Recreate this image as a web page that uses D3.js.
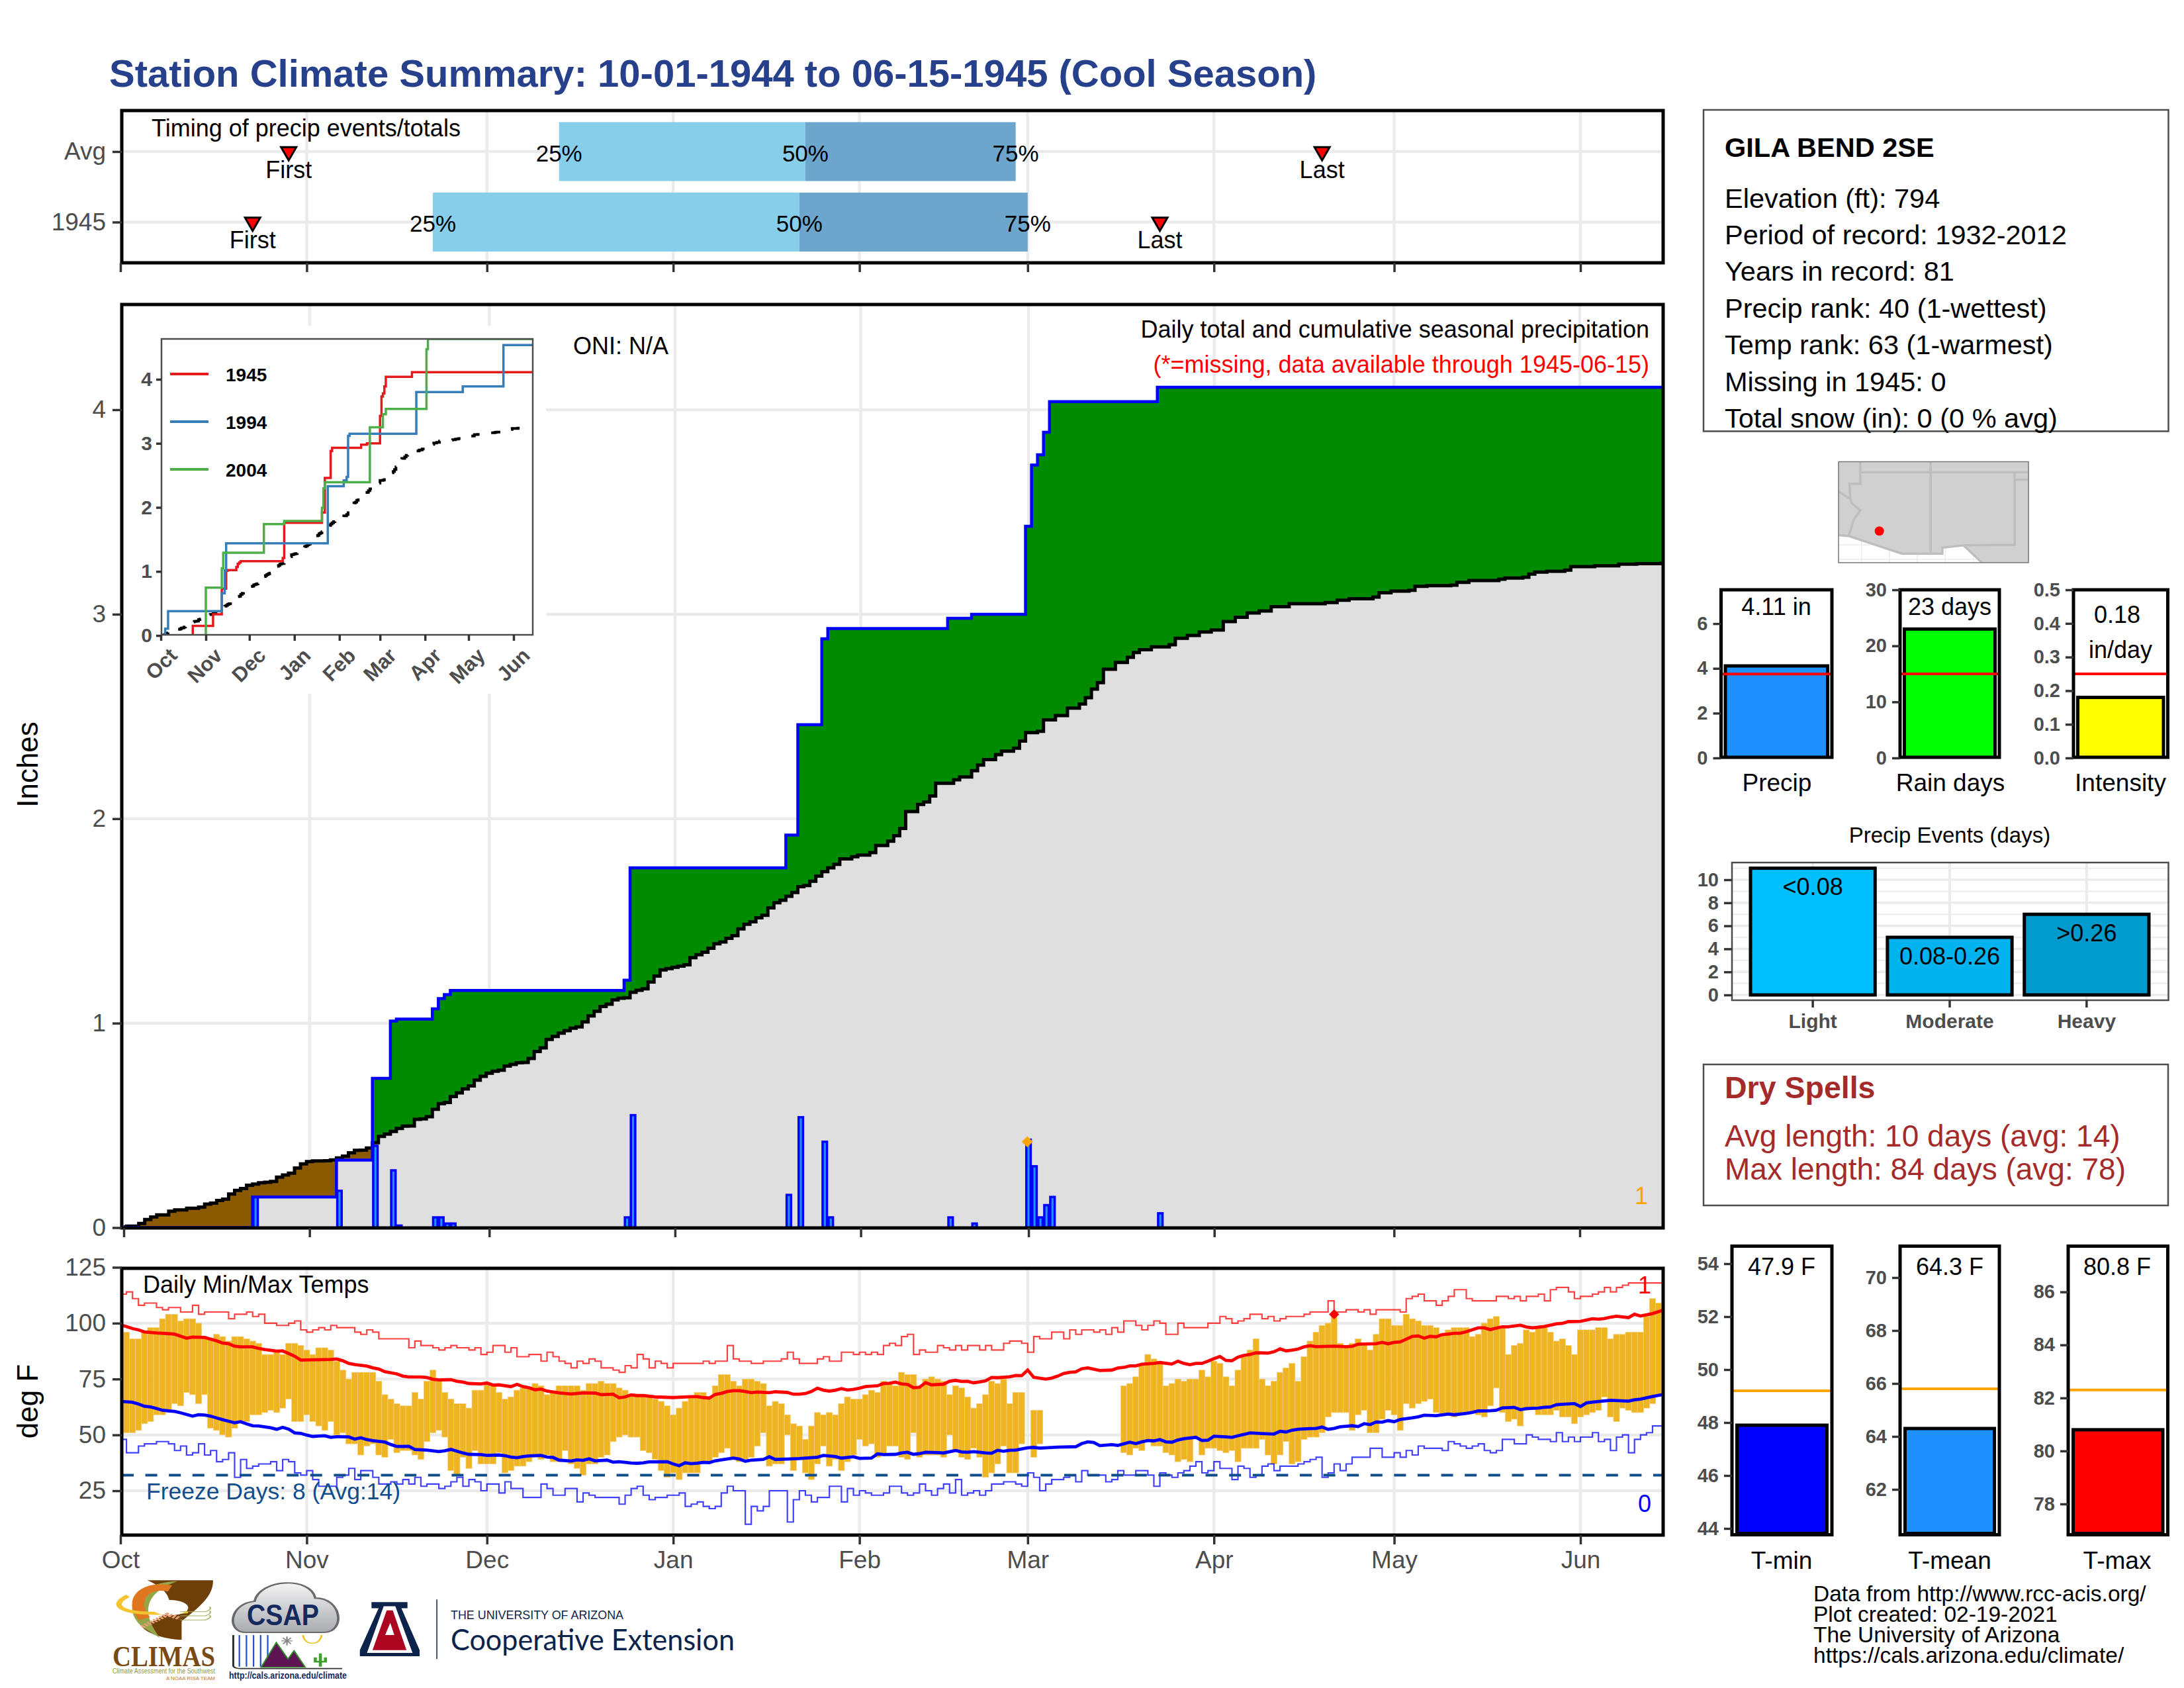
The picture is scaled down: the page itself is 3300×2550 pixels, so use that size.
<!DOCTYPE html>
<html>
<head>
<meta charset="utf-8">
<style>
html, body { margin: 0; background: #fff; }
svg { display: block; font-family: "Liberation Sans", Arial, sans-serif; }
</style>
<script src="https://d3js.org/d3.v7.min.js"></script>
</head>
<body>
<svg id="chart" width="3300" height="2550"></svg>
<script>
// ---- data. day 0 = Oct 1
const monthNames = ['Oct', 'Nov', 'Dec', 'Jan', 'Feb', 'Mar', 'Apr', 'May', 'Jun'];
const monthDays = [0, 31, 61, 92, 123, 151, 182, 212, 243];

// daily precip in 1945 season (non zero days)
const rainDays = [22, 36, 42, 45, 46, 52, 53, 54, 55, 84, 85, 111, 113, 117, 118, 138, 142, 151, 152, 153, 154, 155, 173];
const rainVals = [.15, .18, .40, .28, .01, .05, .05, .02, .02, .05, .55, .16, .54, .42, .05, .05, .02, .43, .30, .05, .11, .15, .07];

// average cumulative precip (value holds from that day on)
const avgDays = [0,1,3,4,5,6,8,9,11,13,14,15,16,17,18,19,20,21,22,23,24,25,26,27,28,29,30,31,32,34,35,36,37,38,39,40,41,42,43,44,45,46,47,48,49,50,51,52,53,54,55,56,57,58,59,60,61,62,63,64,65,66,67,68,69,70,71,72,73,74,75,76,77,78,79,80,81,82,83,84,85,86,87,88,89,90,91,92,93,94,95,96,97,98,99,100,101,102,103,104,105,106,107,108,109,110,111,112,113,114,115,116,117,118,119,120,122,123,125,126,128,129,130,131,133,134,135,136,139,140,142,143,144,146,147,149,150,151,153,154,156,158,160,161,162,163,164,166,168,169,170,172,175,176,178,180,182,184,186,188,190,192,195,201,203,205,209,210,212,215,216,218,222,223,225,230,231,234,235,236,238,241,242,246,250,253,257];
const avgCum = [.004,.007,.02,.04,.052,.062,.08,.087,.095,.10,.115,.12,.133,.139,.164,.182,.191,.207,.213,.219,.222,.226,.247,.257,.266,.291,.312,.323,.326,.327,.331,.341,.35,.366,.378,.379,.389,.415,.446,.457,.47,.485,.496,.497,.529,.532,.542,.579,.606,.612,.641,.659,.678,.693,.721,.74,.755,.765,.77,.79,.798,.806,.808,.827,.861,.879,.92,.935,.951,.963,.975,.982,1.006,1.035,1.058,1.081,1.093,1.114,1.122,1.124,1.151,1.161,1.168,1.201,1.23,1.26,1.267,1.273,1.279,1.285,1.32,1.335,1.347,1.366,1.388,1.397,1.415,1.428,1.461,1.484,1.496,1.515,1.527,1.564,1.589,1.601,1.62,1.639,1.667,1.673,1.694,1.719,1.741,1.76,1.777,1.803,1.814,1.822,1.834,1.869,1.89,1.917,1.952,2.035,2.07,2.082,2.111,2.173,2.19,2.204,2.235,2.262,2.289,2.313,2.33,2.345,2.38,2.421,2.427,2.483,2.504,2.541,2.561,2.592,2.634,2.665,2.731,2.764,2.789,2.813,2.826,2.84,2.851,2.882,2.896,2.913,2.923,2.964,2.985,3.006,3.016,3.037,3.051,3.057,3.068,3.076,3.084,3.105,3.113,3.117,3.136,3.14,3.142,3.156,3.165,3.171,3.177,3.181,3.196,3.206,3.21,3.216,3.233,3.237,3.245,3.247,3.249];

// inset comparison years (value holds from that day on)
const y1994Days = [0, 3, 5, 42, 44, 45, 115, 126, 128, 129, 130, 176, 208, 236];
const y1994Cum = [0, .107, .38, .66, 1.015, 1.44, 2.33, 2.42, 2.475, 3.117, 3.15, 3.80, 3.89, 4.534];
const y2004Days = [0, 31, 42, 43, 71, 85, 111, 112, 113, 144, 153, 155, 183, 184];
const y2004Cum = [0, .748, 1.05, 1.293, 1.738, 1.788, 1.995, 2.297, 2.394, 3.25, 3.455, 3.537, 4.47, 4.63];

// daily max / min temps, null = missing
const tmaxVals = [96,96,93,93,96,98,98,102,104,104,101,102,102,100,94,93,95,94,92,94,94,93,92,91,86,86,87,86,91,91,90,88,86,89,89,88,83,79,75,78,78,78,78,74,68,66,64,63,63,69,66,74,79,74,69,66,64,64,62,70,70,73,72,69,66,67,70,71,71,73,72,68,69,72,72,72,72,70,73,73,74,73,73,71,70,68,68,67,67,66,65,63,59,62,65,67,69,69,67,72,77,77,74,72,75,75,74,73,63,65,64,59,55,54,48,54,60,59,60,59,64,67,66,66,68,70,69,74,73,72,78,77,77,71,75,76,75,74,68,72,71,67,62,64,68,74,73,75,64,69,69,null,61,61,null,null,null,null,null,null,null,null,null,null,null,null,null,72,73,76,81,86,84,82,72,73,75,74,75,75,79,76,83,82,76,72,79,85,88,93,75,72,74,78,80,82,74,85,92,96,99,100,103,91,90,91,93,90,88,95,102,102,99,99,104,102,101,99,99,98,95,97,98,98,98,94,95,100,102,103,98,86,90,91,97,96,98,98,96,92,93,90,86,97,97,97,98,98,93,95,95,96,96,96,103,111,109];
const tminVals = [51,51,51,52,55,56,59,59,61,64,63,69,68,64,68,53,52,50,49,53,56,56,59,59,60,61,60,62,66,56,56,59,56,54,52,56,50,51,46,46,41,45,46,41,40,48,42,43,43,41,39,47,51,52,49,34,32,40,35,43,37,37,37,42,33,34,36,36,38,40,39,41,38,38,43,37,35,32,37,37,40,41,47,49,50,49,49,43,42,39,34,31,33,30,33,33,33,38,38,40,42,44,39,38,39,40,45,51,36,37,37,50,34,40,33,30,37,45,36,39,34,38,41,48,45,46,40,41,45,45,40,39,51,40,41,41,41,40,50,43,40,39,44,40,31,33,37,45,33,33,46,null,40,46,null,null,null,null,null,null,null,null,null,null,null,null,null,42,41,44,43,48,45,45,42,41,38,39,38,49,41,44,44,43,42,43,38,44,44,44,48,41,37,41,47,37,38,48,49,49,51,58,60,60,60,52,59,61,51,51,57,61,59,52,64,62,64,65,66,60,59,59,58,59,60,60,59,58,63,71,60,56,57,54,61,62,59,59,59,61,58,58,55,58,59,60,61,67,58,56,62,61,60,60,62,64,68];

// normal max / min (thick lines)
const normMaxDays = [0,1,2,3,4,6,8,9,11,12,14,16,17,18,19,20,22,23,24,26,27,28,29,30,35,36,37,38,39,41,42,43,44,46,47,48,50,51,52,53,55,56,57,58,60,61,62,63,65,66,67,68,69,70,71,73,75,77,79,80,82,83,84,85,86,87,89,92,95,96,97,98,99,100,101,102,103,104,105,106,108,109,111,112,113,114,115,116,117,118,119,120,121,122,123,124,126,127,128,129,130,131,132,133,134,135,137,138,139,140,141,142,143,144,145,146,148,149,150,151,152,154,155,156,157,158,159,160,161,163,165,166,167,168,169,170,172,173,175,176,177,178,179,180,181,182,183,184,185,186,187,188,189,190,191,192,193,194,195,196,197,198,199,202,204,205,206,209,210,211,212,213,214,215,216,217,218,219,220,221,222,223,224,226,227,228,229,230,231,233,234,235,237,239,240,241,243,245,246,247,248,249,251,252,253,255,257];
const normMaxVals = [99.2,98.5,97.6,97,96.1,95.6,95.3,95.1,93.3,93.8,93.6,92.1,91.1,90.8,89.7,89.4,89.4,88.7,88.2,87.5,87.6,86.4,85.2,83.5,83.8,84,83.2,82,81.5,80.8,80,79.5,78.3,77.3,76.3,75.9,75.9,75.7,74.9,74.6,74.7,74,73.6,73,72.8,73.2,72.3,72.4,71.6,72.6,71.6,71.1,70.2,70.5,69.6,68.8,68.3,68.8,68.7,68,68.2,66.6,67,67.9,67.6,67.6,67,66.7,67.1,67.1,66.7,66.5,68.1,68.6,69.4,69.8,69.8,69.4,68.9,69.2,68.9,69.3,69,68.2,68.2,68.5,69.4,70.9,70,69.6,70,70.7,70.1,70.4,70.9,71.6,72,73,73.1,73.6,72.8,72.6,71.1,71.3,73.4,72.4,72.7,74,74.4,73.9,74,73.3,73.7,74.2,75.7,75.6,76,76.6,76.5,79,75.8,75,75.4,76.3,77.5,78,78.2,79.6,80,78.8,79,79.9,80.2,80.9,80.9,81.6,82,82.4,81.7,83,82,81.4,82,82,83,84.1,85.1,83.3,83.2,84.8,85.6,86,86.7,86.7,86.6,87.2,88.5,87.6,87.9,88.4,89.4,89.9,89.5,89.7,89.5,89.6,90.6,90.8,91.4,90.8,91.4,91.6,92.8,94.1,94.3,93.3,94.1,93.9,94.9,95.1,95.5,95.5,96.2,97.9,97.9,97.1,97.8,98.4,98.4,99.1,98.3,97.9,98.5,99.7,99.9,100.7,100.8,102,101.8,102.1,102.7,103.1,102.5,104,103.2,104.3,106];
const normMinDays = [0,1,2,3,4,5,6,7,9,10,12,13,14,15,16,17,18,19,20,21,22,23,25,26,27,28,29,30,31,32,33,34,35,36,38,39,40,41,42,44,45,46,48,49,51,53,54,55,56,57,58,60,61,63,64,65,66,67,68,70,71,72,73,75,76,77,78,79,81,82,83,85,86,87,88,91,92,93,94,95,96,97,98,99,100,102,103,104,105,107,108,109,111,113,116,117,119,120,122,123,125,126,127,129,130,131,132,133,134,136,137,139,140,141,142,144,145,146,147,148,149,150,151,152,153,156,159,160,161,162,163,164,165,166,167,168,169,170,171,172,173,174,175,176,177,179,180,181,182,184,185,186,187,188,190,192,193,194,195,196,198,199,200,201,202,203,205,206,207,208,209,210,211,212,213,215,216,217,219,221,222,224,225,226,228,229,230,232,233,234,236,237,238,239,240,242,243,244,245,248,251,252,253,255,257];
const normMinVals = [65,64.8,64.6,63.8,62.8,62.5,61.8,61,60.5,59.9,58.4,59,58.9,58.4,57.6,56.8,56.1,55.4,55.9,54.9,54.1,54,53.2,52.5,53.4,52.6,50.9,50.7,49.9,49.3,49.5,49.6,48.9,49.2,49.1,48.1,48.7,47.9,47.4,46.8,45.7,44.8,44.9,43.5,43.2,42.5,42.9,43.5,42.7,41.9,41.3,41.2,40.8,41,40.7,40.1,39.8,40.3,40.6,40.8,40.1,39.9,38.7,38.3,38.8,38.6,39.3,38.4,38.7,37.8,38,37.4,37.3,37.5,37.9,38,37,36.2,37.5,37.1,37.3,37.7,37.6,38.4,38.8,39.6,39.2,38.2,38.7,39,40.2,39,39.2,39.4,40,40.8,40.3,39.6,40.2,39.5,39.6,41.5,41.2,41.3,41.9,42.2,41.3,41.6,42.2,42.1,41.9,43,42.4,42.2,42.5,41.9,41.8,43.1,42.7,43.1,43.2,43.7,44.2,44.4,44.1,44.5,44.7,46.1,46.9,46.6,45.2,45.4,45.6,45.3,46,46.7,46.1,46.9,47.5,47.3,47.9,46.9,46.7,47.7,48.3,48.9,47.5,47.6,49.4,49.1,48.9,49.6,50.2,50.9,50.6,50.4,51.6,51.3,52.1,52.5,52.8,52.9,53.5,52.5,52.9,53.6,54.1,53.7,55,54.6,55.8,55.7,56.4,55.9,56.9,57.6,58.1,58.8,58.6,59.3,59,59.6,60.1,60.7,60.8,61,62.1,62.3,61.3,61.8,62,62.4,62.5,63.5,63.7,64,62.7,64.3,64.7,65.5,65.1,65.7,66,67.2,68.2];

// record high / low steps (value holds from that day on)
const recHiDays = [0,1,2,3,4,6,7,8,10,12,13,14,18,19,21,22,23,24,26,28,29,30,31,32,33,34,35,36,39,40,41,42,43,48,49,50,52,53,54,55,56,58,59,60,61,62,64,65,66,68,70,71,72,73,74,75,76,77,78,79,80,82,83,84,85,86,87,88,89,90,91,92,97,98,99,101,102,103,105,107,110,111,112,113,116,117,118,120,122,123,124,125,126,127,128,129,130,131,132,133,134,136,137,138,139,140,141,143,144,145,147,148,150,151,152,153,155,157,158,159,160,162,163,164,165,166,167,169,170,171,172,173,174,176,177,181,183,184,185,186,187,188,190,191,192,193,194,197,198,201,202,203,204,206,207,208,209,213,214,215,216,217,219,220,221,222,224,225,229,231,232,233,234,236,237,238,239,241,242,243,245,246,247,248,249,250,251,257];
const recHiVals = [113,114,111,108,109,107,106,107,105,108,104,105,102,104,105,103,104,100,99,100,101,97,96,97,98,97,99,98,96,95,97,96,93,89,92,90,89,88,89,90,89,88,89,86,87,90,87,89,85,86,83,87,85,83,82,80,83,82,84,83,80,79,78,81,80,86,84,80,83,82,80,82,83,82,83,90,84,83,82,83,84,87,84,82,84,85,83,87,86,87,86,87,86,90,91,90,94,95,86,88,87,90,89,88,90,88,90,88,90,88,91,92,91,87,94,93,96,93,97,95,97,96,97,95,98,96,101,99,97,99,101,100,95,100,98,100,103,102,100,101,102,104,102,103,101,102,103,104,105,110,105,105,106,105,106,104,106,105,111,112,113,110,108,110,112,115,111,110,112,111,112,110,112,113,110,115,116,114,111,112,113,114,116,114,116,117,118,118];
const recLoDays = [0,1,3,4,6,8,9,10,11,12,13,14,15,16,17,18,19,20,21,22,23,25,26,27,28,29,30,31,32,33,36,37,38,39,40,42,43,45,46,47,48,49,50,51,53,54,55,56,57,58,59,60,61,63,64,65,67,70,71,72,74,76,77,78,79,83,84,85,86,87,88,89,91,93,94,95,96,97,98,99,100,101,102,104,105,106,107,108,111,112,113,114,115,116,118,120,121,122,123,124,125,127,128,130,131,132,133,134,135,136,137,138,139,140,141,142,143,144,145,147,149,150,151,152,153,154,155,157,158,159,160,161,164,165,166,167,169,171,172,173,174,175,176,177,178,179,180,181,182,183,185,186,187,188,189,190,191,192,193,196,197,198,199,200,201,202,203,204,205,208,210,212,213,214,215,216,217,220,221,222,223,224,225,226,227,228,229,230,232,234,235,236,238,239,240,241,242,243,245,246,247,248,249,250,251,252,253,254,255,257];
const recLoVals = [48,42,45,46,47,46,43,45,41,42,46,41,43,38,39,42,31,39,35,36,37,38,34,39,38,33,32,34,30,27,31,32,35,30,34,31,28,29,28,30,28,31,27,28,26,27,29,31,27,30,29,25,28,24,29,26,22,28,26,23,26,20,24,23,22,19,23,26,27,23,21,22,23,24,18,19,20,18,17,18,24,27,25,10,18,16,18,25,11,21,25,23,20,22,27,20,26,23,25,24,23,24,27,24,23,24,28,25,23,26,28,24,30,23,24,25,23,25,28,29,28,27,33,31,25,28,30,31,32,29,34,32,29,30,34,32,34,32,27,33,32,31,33,34,36,38,33,34,38,35,30,36,35,31,32,36,37,34,36,37,38,39,40,31,33,37,34,37,40,44,40,42,40,43,41,45,44,43,47,46,45,44,45,46,43,42,43,48,46,50,49,48,47,51,47,49,47,49,51,47,48,43,49,50,42,48,50,51,54,54];

// timing panel
const timingRows = ['Avg', '1945'];
const timing25 = [73, 52];
const timing50 = [114, 113];
const timing75 = [149, 151];
const timingFirst = [28, 22];
const timingLast = [200, 173];

// summary bars
const summaryNames = ['Precip', 'Rain days', 'Intensity'];
const summaryVals = [4.11, 23, 0.18];
const summaryAvg = [3.75, 15, 0.25];
const eventNames = ['Light', 'Moderate', 'Heavy'];
const eventLabels = ['<0.08', '0.08-0.26', '>0.26'];
const eventVals = [11, 5, 7];
const tempNames = ['T-min', 'T-mean', 'T-max'];
const tempVals = [47.9, 64.3, 80.8];
const tempAvg = [49.2, 65.8, 82.3];

const infoLines = ['Elevation (ft): 794', 'Period of record: 1932-2012', 'Years in record: 81', 'Precip rank: 40 (1-wettest)',
  'Temp rank: 63 (1-warmest)', 'Missing in 1945: 0', 'Total snow (in): 0 (0 % avg)'];
const footerLines = ['Data from http://www.rcc-acis.org/', 'Plot created: 02-19-2021', 'The University of Arizona', 'https://cals.arizona.edu/climate/'];

// map outlines, lon/lat
const mapLand = [[-115.7,37.8],[-102,37.8],[-102,30.7],[-105.3,30.7],[-106.7,31.97],[-108.21,31.81],[-108.21,31.39],[-111.09,31.39],[-114.92,32.61],[-115.7,32.67]];
const mapBorders = [
  [[-115.7,35.72],[-114.8,35.17],[-114.68,34.85],[-114.08,34.37],[-114.56,33.73],[-114.75,33.09],[-114.92,32.61]],
  [[-114.08,37.8],[-114.08,36.2],[-114.85,36.2],[-114.8,35.17]],
  [[-114.08,37],[-102,37]],
  [[-109.05,37.8],[-109.05,31.39]],
  [[-103.04,37],[-103.04,32],[-106.7,31.97]],
  [[-103.04,36.5],[-102,36.5]]
];
const mapStation = [-112.72, 32.95];

// ---- helpers
const svg = d3.select('#chart');
const grey = '#4D4D4D', gridCol = '#EBEBEB';
let clipN = 0;

function txt(g, x, y, s, o = {}) {
  const t = g.append('text').attr('x', x).attr('y', y).text(s)
    .attr('font-size', o.size || 36).attr('text-anchor', o.anchor || 'start')
    .attr('dominant-baseline', 'central').attr('fill', o.fill || '#000');
  if (o.weight) t.attr('font-weight', o.weight);
  if (o.family) t.attr('font-family', o.family);
  if (o.len) t.attr('textLength', o.len).attr('lengthAdjust', 'spacingAndGlyphs');
  return t;
}
function clip(x, y, w, h) {
  const id = 'c' + (clipN++);
  svg.append('clipPath').attr('id', id).append('rect').attr('x', x).attr('y', y).attr('width', w).attr('height', h);
  return `url(#${id})`;
}
function frame(x, y, w, h, col = '#000', sw = 5) {
  svg.append('rect').attr('x', x).attr('y', y).attr('width', w).attr('height', h)
    .attr('fill', 'none').attr('stroke', col).attr('stroke-width', sw);
}
function axisStyle(g, size = 37, weight = null) {
  g.select('.domain').remove();
  g.selectAll('line').attr('stroke', '#333').attr('stroke-width', 3.5);
  g.selectAll('text').attr('font-size', size).attr('fill', grey).attr('font-family', '"Liberation Sans"');
  if (weight) g.selectAll('text').attr('font-weight', weight);
}
function hGrid(g, scale, vals, x0, x1, sw = 4.5) {
  g.selectAll(null).data(vals).join('line').attr('x1', x0).attr('x2', x1)
    .attr('y1', d => scale(d)).attr('y2', d => scale(d)).attr('stroke', gridCol).attr('stroke-width', sw);
}
function vGrid(g, scale, vals, y0, y1, sw = 4.5) {
  g.selectAll(null).data(vals).join('line').attr('y1', y0).attr('y2', y1)
    .attr('x1', d => scale(d)).attr('x2', d => scale(d)).attr('stroke', gridCol).attr('stroke-width', sw);
}
// value on a given day from a "holds from that day on" table
function holdAt(days, vals, d) {
  return vals[Math.max(0, d3.bisectRight(days, d) - 1)];
}
const zip = (a, b) => a.map((d, i) => [d, b[i]]);

// ---- title
txt(svg, 165, 110, 'Station Climate Summary: 10-01-1944 to 06-15-1945 (Cool Season)', { size: 58, weight: 'bold', fill: '#27408B' });

// ---- shared scales
const panelL = 184, panelR = 2513;
const xTime = d3.scaleLinear().domain([0, 243]).range([182, 2388]);
const xMain = d3.scaleLinear().domain([0, 243]).range([187, 2387]);

// ---- timing panel
{
  const top = 167, bottom = 397;
  const g = svg.append('g');
  const yRow = d3.scalePoint().domain(timingRows).range([229, 335.5]);
  vGrid(g, xTime, monthDays.slice(1), top, bottom);
  hGrid(g, yRow, timingRows, panelL, panelR);
  const barH = 89;
  timingRows.forEach((r, i) => {
    const y = yRow(r) - barH / 2;
    g.append('rect').attr('x', xTime(timing25[i])).attr('y', y).attr('height', barH)
      .attr('width', xTime(timing50[i]) - xTime(timing25[i])).attr('fill', '#87CEEB');
    g.append('rect').attr('x', xTime(timing50[i])).attr('y', y).attr('height', barH)
      .attr('width', xTime(timing75[i]) - xTime(timing50[i])).attr('fill', '#6CA6CD');
    [[timing25[i], '25%'], [timing50[i], '50%'], [timing75[i], '75%']].forEach(p =>
      txt(g, xTime(p[0]), yRow(r) + 2, p[1], { size: 35, anchor: 'middle' }));
    [[timingFirst[i], 'First'], [timingLast[i], 'Last']].forEach(p => {
      g.append('path').attr('d', d3.symbol(d3.symbolTriangle, 230)())
        .attr('transform', `translate(${xTime(p[0])},${yRow(r)}) rotate(180)`)
        .attr('fill', '#FF0000').attr('stroke', '#000').attr('stroke-width', 3);
      txt(g, xTime(p[0]), yRow(r) + 27, p[1], { size: 36, anchor: 'middle' });
    });
  });
  txt(g, 229, 193, 'Timing of precip events/totals', { size: 36 });
  frame(panelL, top, panelR - panelL, bottom - top);
  const ax = svg.append('g').attr('transform', `translate(${panelL},0)`).call(d3.axisLeft(yRow).tickSize(14).tickPadding(10));
  axisStyle(ax);
  const bx = svg.append('g').attr('transform', `translate(0,${bottom})`)
    .call(d3.axisBottom(xTime).tickValues(monthDays).tickSize(14).tickFormat(''));
  axisStyle(bx);
}

// ---- main precip panel
{
  const top = 460, bottom = 1855;
  const y = d3.scaleLinear().domain([0, 4]).range([1854.5, 619]);
  const g = svg.append('g').attr('clip-path', clip(panelL, top, panelR - panelL, bottom - top));
  hGrid(g, y, [1, 2, 3, 4], panelL, panelR);
  vGrid(g, xMain, monthDays.slice(1), top, bottom);
  // white space kept around the inset
  g.append('rect').attr('x', 187).attr('y', 492).attr('width', 638).attr('height', 556).attr('fill', '#fff');

  const days = d3.range(0, 259);
  const rainDaily = days.map(d => { const i = rainDays.indexOf(d); return i < 0 ? 0 : rainVals[i]; });
  const cum = Array.from(d3.cumsum(rainDaily));
  const avg = days.map(d => holdAt(avgDays, avgCum, d));

  const area = (lo, hi) => d3.area().curve(d3.curveStep).x(d => xMain(d))
    .y0(d => y(lo(d))).y1(d => y(hi(d)))(days);
  g.append('path').attr('d', area(() => 0, d => Math.min(avg[d], cum[d]))).attr('fill', '#DFDFDF');
  g.append('path').attr('d', area(d => avg[d], d => Math.max(avg[d], cum[d]))).attr('fill', '#008B00');
  g.append('path').attr('d', area(d => cum[d], d => Math.max(avg[d], cum[d]))).attr('fill', '#8B5A00');

  g.selectAll(null).data(rainDays).join('rect')
    .attr('x', d => xMain(d - .5) + 1.2).attr('width', d => xMain(d + .5) - xMain(d - .5) - 2.4)
    .attr('y', (d, i) => y(rainVals[i])).attr('height', (d, i) => y(0) - y(rainVals[i]))
    .attr('fill', '#1E90FF').attr('stroke', '#0000FF').attr('stroke-width', 3.5);

  const stepLine = vals => d3.line().curve(d3.curveStep).x(d => xMain(d)).y(d => y(vals[d]))(days);
  g.append('path').attr('d', stepLine(avg)).attr('fill', 'none').attr('stroke', '#000').attr('stroke-width', 5);
  g.append('path').attr('d', stepLine(cum)).attr('fill', 'none').attr('stroke', '#0000FF').attr('stroke-width', 4.5);

  // wettest-day marker
  g.append('path').attr('d', d3.symbol(d3.symbolSquare, 140)())
    .attr('transform', `translate(${xMain(150.8)},${y(.42)}) rotate(45)`).attr('fill', 'orange');

  frame(panelL, top, panelR - panelL, bottom - top);
  const ax = svg.append('g').attr('transform', `translate(${panelL},0)`)
    .call(d3.axisLeft(y).tickValues([0, 1, 2, 3, 4]).tickSize(14).tickPadding(10).tickFormat(d3.format('d')));
  axisStyle(ax);
  const bx = svg.append('g').attr('transform', `translate(0,${bottom})`)
    .call(d3.axisBottom(xMain).tickValues(monthDays).tickSize(14).tickFormat(''));
  axisStyle(bx);

  txt(svg, 866, 522, 'ONI: N/A');
  txt(svg, 2492, 497, 'Daily total and cumulative seasonal precipitation', { anchor: 'end' });
  txt(svg, 2492, 550, '(*=missing, data available through 1945-06-15)', { anchor: 'end', fill: '#FF0000' });
  txt(svg, 2480, 1806, '1', { anchor: 'middle', fill: 'orange' });
  txt(svg, 41, 1155, 'Inches', { size: 44, anchor: 'middle' }).attr('transform', 'rotate(-90 41 1155)');

  // ---- inset
  const il = 244, ir = 805, it = 512, ib = 959;
  const xIn = d3.scaleLinear().domain([0, 243]).range([243, 776]);
  const yIn = d3.scaleLinear().domain([0, 4]).range([960, 573]);
  const ing = svg.append('g').attr('clip-path', clip(il, it, ir - il, ib - it));
  const inLine = d3.line().x(d => xIn(d[0])).y(d => yIn(d[1]));
  const stepIn = inLine.curve(d3.curveStepAfter);
  const extend = (a, b) => zip(a, b).concat([[257, b[b.length - 1]]]);
  ing.append('path').attr('d', stepIn(extend(avgDays, avgCum))).attr('fill', 'none')
    .attr('stroke', '#000').attr('stroke-width', 4).attr('stroke-dasharray', '15 20');
  ing.append('path').attr('d', stepIn(days.map(d => [d, cum[d]]))).attr('fill', 'none').attr('stroke', '#E41A1C').attr('stroke-width', 3.5);
  ing.append('path').attr('d', stepIn(extend(y1994Days, y1994Cum))).attr('fill', 'none').attr('stroke', '#377EB8').attr('stroke-width', 3.5);
  ing.append('path').attr('d', stepIn(extend(y2004Days, y2004Cum))).attr('fill', 'none').attr('stroke', '#4DAF4A').attr('stroke-width', 3.5);
  frame(il, it, ir - il, ib - it, grey, 2.5);

  [['1945', '#E41A1C', 565], ['1994', '#377EB8', 637], ['2004', '#4DAF4A', 709]].forEach(l => {
    svg.append('line').attr('x1', 257).attr('x2', 315).attr('y1', l[2]).attr('y2', l[2]).attr('stroke', l[1]).attr('stroke-width', 4);
    txt(svg, 341, l[2] + 1, l[0], { size: 28, weight: 'bold' });
  });
  const iax = svg.append('g').attr('transform', `translate(${il},0)`)
    .call(d3.axisLeft(yIn).tickValues([0, 1, 2, 3, 4]).tickSize(8).tickPadding(6).tickFormat(d3.format('d')));
  axisStyle(iax, 30, 'bold');
  const ibx = svg.append('g').attr('transform', `translate(0,${ib})`)
    .call(d3.axisBottom(xIn).tickValues(monthDays).tickSize(9).tickPadding(6).tickFormat((d, i) => monthNames[i]));
  axisStyle(ibx, 31, 'bold');
  ibx.selectAll('text').attr('text-anchor', 'end').attr('transform', 'rotate(-45) translate(-5,5)');
}

// ---- daily temps panel
{
  const top = 1916, bottom = 2319;
  const y = d3.scaleLinear().domain([25, 125]).range([2252, 1914.5]);
  const g = svg.append('g').attr('clip-path', clip(panelL, top, panelR - panelL, bottom - top));
  hGrid(g, y, [25, 50, 75, 100], panelL, panelR);
  vGrid(g, xTime, monthDays.slice(1), top, bottom);

  const barDays = d3.range(tmaxVals.length).filter(d => tmaxVals[d] !== null);
  g.selectAll(null).data(barDays).join('rect')
    .attr('x', d => xTime(d - .5)).attr('width', d => xTime(d + .5) - xTime(d - .5))
    .attr('y', d => y(tmaxVals[d])).attr('height', d => y(tminVals[d]) - y(tmaxVals[d]))
    .attr('fill', '#EEB422').attr('stroke', '#F3CE7C').attr('stroke-width', .8);

  const line = d3.line().x(d => xTime(d[0])).y(d => y(d[1]));
  const step = d3.line().curve(d3.curveStepAfter).x(d => xTime(d[0])).y(d => y(d[1]));
  g.append('path').attr('d', step(zip(recHiDays, recHiVals))).attr('fill', 'none').attr('stroke', '#FF0000').attr('stroke-width', 2.2).attr('stroke-opacity', .75);
  g.append('path').attr('d', step(zip(recLoDays, recLoVals))).attr('fill', 'none').attr('stroke', '#0000FF').attr('stroke-width', 2.2).attr('stroke-opacity', .75);
  g.append('path').attr('d', line(zip(normMaxDays, normMaxVals))).attr('fill', 'none').attr('stroke', '#FF0000').attr('stroke-width', 4.8);
  g.append('path').attr('d', line(zip(normMinDays, normMinVals))).attr('fill', 'none').attr('stroke', '#0000FF').attr('stroke-width', 4.8);
  g.append('line').attr('x1', panelL).attr('x2', panelR).attr('y1', y(32)).attr('y2', y(32))
    .attr('stroke', '#104E8B').attr('stroke-width', 4).attr('stroke-dasharray', '18 17.6');
  g.append('path').attr('d', d3.symbol(d3.symbolSquare, 120)())
    .attr('transform', `translate(${xTime(202)},${y(104)}) rotate(45)`).attr('fill', '#FF0000');

  frame(panelL, top, panelR - panelL, bottom - top);
  const ax = svg.append('g').attr('transform', `translate(${panelL},0)`)
    .call(d3.axisLeft(y).tickValues([25, 50, 75, 100, 125]).tickSize(14).tickPadding(10));
  axisStyle(ax);
  const bx = svg.append('g').attr('transform', `translate(0,${bottom})`)
    .call(d3.axisBottom(xTime).tickValues(monthDays).tickSize(14).tickPadding(10).tickFormat((d, i) => monthNames[i]));
  axisStyle(bx);

  txt(svg, 216, 1940, 'Daily Min/Max Temps', { size: 36 });
  txt(svg, 221, 2253, 'Freeze Days: 8 (Avg:14)', { size: 35.5, fill: '#104E8B' });
  txt(svg, 2485, 1941, '1', { anchor: 'middle', fill: '#FF0000' });
  txt(svg, 2485, 2271, '0', { anchor: 'middle', fill: '#0000FF' });
  txt(svg, 41, 2117, 'deg F', { size: 44, anchor: 'middle' }).attr('transform', 'rotate(-90 41 2117)');
}

// ---- station info box
frame(2574, 166, 702.5, 485.5, grey, 2.5);
txt(svg, 2606, 222, 'GILA BEND 2SE', { size: 41.5, weight: 'bold' });
infoLines.forEach((s, i) => txt(svg, 2606, 299 + i * 55.4, s, { size: 41.5 }));

// ---- locator map
{
  const lon = d3.scaleLinear().domain([-115.64, -102.05]).range([2778, 3065]);
  const lat = d3.scaleLinear().domain([37.73, 30.77]).range([697.5, 850]);
  const g = svg.append('g').attr('clip-path', clip(2778, 697.5, 287, 152.5));
  const line = d3.line().x(d => lon(d[0])).y(d => lat(d[1]));
  vGrid(g, lon, [-114, -112, -110, -108, -106, -104], 697, 850, 1.5);
  hGrid(g, lat, [31, 32], 2778, 3065, 1.5);
  g.append('path').attr('d', line(mapLand) + 'Z').attr('fill', '#D0D0D0').attr('stroke', '#BEBEBE').attr('stroke-width', 3.5);
  mapBorders.forEach(b => g.append('path').attr('d', line(b)).attr('fill', 'none').attr('stroke', '#BEBEBE').attr('stroke-width', 3.5));
  g.append('ellipse').attr('cx', lon(mapStation[0])).attr('cy', lat(mapStation[1])).attr('rx', 7).attr('ry', 7).attr('fill', '#FF0000');
  frame(2778, 697.5, 287, 152.5, '#777', 1.5);
}

// ---- precip / rain days / intensity bars
{
  const specs = [
    { l: 2600.5, r: 2768, dom: [0, 7.51], ticks: [0, 2, 4, 6], fill: '#1E90FF', fmt: d3.format('d'), lx: 2685, note: [['4.11 in', 2684, 916]] },
    { l: 2871, r: 3021, dom: [0, 30], ticks: [0, 10, 20, 30], fill: '#00FF00', fmt: d3.format('d'), lx: 2947, note: [['23 days', 2946, 916]] },
    { l: 3133, r: 3275.5, dom: [0, .5], ticks: [0, .1, .2, .3, .4, .5], fill: '#FFFF00', fmt: d3.format('.1f'), lx: 3204, note: [['0.18', 3199, 928], ['in/day', 3204, 981]] }
  ];
  specs.forEach((s, i) => {
    const t = 891, b = 1144;
    const y = d3.scaleLinear().domain(s.dom).range([1145, 891]);
    const g = svg.append('g').attr('clip-path', clip(s.l, t, s.r - s.l, b - t));
    g.append('rect').attr('x', s.l + 6.5).attr('width', s.r - s.l - 13).attr('y', y(summaryVals[i]))
      .attr('height', y(0) - y(summaryVals[i])).attr('fill', s.fill).attr('stroke', '#000').attr('stroke-width', 5);
    g.append('line').attr('x1', s.l).attr('x2', s.r).attr('y1', y(summaryAvg[i])).attr('y2', y(summaryAvg[i]))
      .attr('stroke', '#FF0000').attr('stroke-width', 4);
    frame(s.l, t, s.r - s.l, b - t);
    const ax = svg.append('g').attr('transform', `translate(${s.l},0)`)
      .call(d3.axisLeft(y).tickValues(s.ticks).tickSize(12).tickPadding(8).tickFormat(s.fmt));
    axisStyle(ax, 29, 'bold');
    s.note.forEach(n => txt(svg, n[1], n[2], n[0], { size: 36, anchor: 'middle' }));
    txt(svg, s.lx, 1182, summaryNames[i], { size: 37, anchor: 'middle' });
  });
}

// ---- precip events
{
  const l = 2617, r = 3276.5, t = 1303, b = 1511;
  const x = d3.scaleBand().domain(eventNames).range([2645, 3247]).paddingInner(.09).paddingOuter(0);
  const y = d3.scaleLinear().domain([0, 10]).range([1503, 1329]);
  const g = svg.append('g').attr('clip-path', clip(l, t, r - l, b - t));
  hGrid(g, y, [1, 3, 5, 7, 9, 11], l, r, 2);
  hGrid(g, y, [0, 2, 4, 6, 8, 10], l, r, 3.5);
  eventNames.forEach(n => vGrid(g, d3.scaleLinear().domain([0, 1]).range([x(n) + x.bandwidth() / 2, x(n) + x.bandwidth() / 2]), [0], t, b, 4));
  const fills = ['#00BFFF', '#00B2EE', '#009ACD'];
  eventNames.forEach((n, i) => {
    g.append('rect').attr('x', x(n)).attr('width', x.bandwidth()).attr('y', y(eventVals[i]))
      .attr('height', y(0) - y(eventVals[i])).attr('fill', fills[i]).attr('stroke', '#000').attr('stroke-width', 5);
    txt(g, x(n) + x.bandwidth() / 2, y(eventVals[i]) + 28, eventLabels[i], { size: 36, anchor: 'middle' });
  });
  frame(l, t, r - l, b - t, grey, 2.5);
  txt(svg, 2946, 1261, 'Precip Events (days)', { size: 33, anchor: 'middle' });
  const ax = svg.append('g').attr('transform', `translate(${l},0)`)
    .call(d3.axisLeft(y).tickValues([0, 2, 4, 6, 8, 10]).tickSize(12).tickPadding(8));
  axisStyle(ax, 29, 'bold');
  const bx = svg.append('g').attr('transform', `translate(0,${b})`).call(d3.axisBottom(x).tickSize(11).tickPadding(10));
  axisStyle(bx, 30, 'bold');
}

// ---- dry spells
frame(2574, 1608, 702, 213, grey, 2.5);
txt(svg, 2606, 1643, 'Dry Spells', { size: 46.5, weight: 'bold', fill: '#A52A2A' });
txt(svg, 2606, 1716, 'Avg length: 10 days (avg: 14)', { size: 46, fill: '#A52A2A' });
txt(svg, 2606, 1766, 'Max length: 84 days (avg: 78)', { size: 46, fill: '#A52A2A' });

// ---- seasonal temp bars
{
  const specs = [
    { l: 2617, r: 2768, dom: [44, 54], rng: [2309, 1909], ticks: [44, 46, 48, 50, 52, 54], fill: '#0000FF', tx: 2692 },
    { l: 2871, r: 3021, dom: [62, 70], rng: [2250, 1930], ticks: [62, 64, 66, 68, 70], fill: '#1E90FF', tx: 2946 },
    { l: 3125, r: 3275.5, dom: [78, 86], rng: [2272, 1951.6], ticks: [78, 80, 82, 84, 86], fill: '#FF0000', tx: 3199 }
  ];
  specs.forEach((s, i) => {
    const t = 1882.5, b = 2318.5;
    const y = d3.scaleLinear().domain(s.dom).range(s.rng);
    const g = svg.append('g').attr('clip-path', clip(s.l, t, s.r - s.l, b - t));
    g.append('rect').attr('x', s.l + 7.5).attr('width', s.r - s.l - 15).attr('y', y(tempVals[i]))
      .attr('height', b - y(tempVals[i]) - 2).attr('fill', s.fill).attr('stroke', '#000').attr('stroke-width', 5);
    g.append('line').attr('x1', s.l).attr('x2', s.r).attr('y1', y(tempAvg[i])).attr('y2', y(tempAvg[i]))
      .attr('stroke', 'orange').attr('stroke-width', 4);
    frame(s.l, t, s.r - s.l, b - t);
    const ax = svg.append('g').attr('transform', `translate(${s.l},0)`)
      .call(d3.axisLeft(y).tickValues(s.ticks).tickSize(12).tickPadding(8));
    axisStyle(ax, 29, 'bold');
    txt(svg, s.tx, 1913, tempVals[i] + ' F', { size: 36, anchor: 'middle' });
    txt(svg, s.tx, 2357, tempNames[i], { size: 37, anchor: 'middle' });
  });
}

// ---- footer
footerLines.forEach((s, i) => txt(svg, 2740, 2407 + i * 31.3, s, { size: 33.5 }));

// ---- logos, drawn roughly
{
  const defs = svg.append('defs');
  const grad = defs.append('linearGradient').attr('id', 'cloudGrad').attr('x1', 0).attr('x2', 0).attr('y1', 0).attr('y2', 1);
  grad.append('stop').attr('offset', '0%').attr('stop-color', '#F4F4F4');
  grad.append('stop').attr('offset', '100%').attr('stop-color', '#A9ABB0');

  const g = svg.append('g').attr('transform', `translate(100,1900) scale(${1 / 1.307},${1 / 2.412})`);
  // CLIMAS mark
  g.append('path').attr('d', 'M160,1175 L290,1175 C292,1240 250,1290 228,1325 L228,1392 C190,1390 155,1365 148,1340 C215,1310 225,1225 160,1175Z').attr('fill', '#6E3F08');
  g.append('path').attr('d', 'M220,1178 C140,1185 105,1270 150,1345 L185,1385 C150,1300 150,1225 220,1178Z').attr('fill', '#93A64A');
  g.append('path').attr('d', 'M205,1205 C150,1185 125,1255 155,1315').attr('fill', 'none').attr('stroke', '#E0761F').attr('stroke-width', 24);
  g.append('path').attr('d', 'M122,1232 C80,1270 110,1310 240,1290').attr('fill', 'none').attr('stroke', '#F4C430').attr('stroke-width', 11);
  g.append('ellipse').attr('cx', 205).attr('cy', 1275).attr('rx', 36).attr('ry', 28).attr('fill', '#fff');
  g.append('path').attr('d', 'M150,1345 L200,1300 L225,1315').attr('fill', 'none').attr('stroke', '#E8A27A').attr('stroke-width', 12).attr('stroke-dasharray', '5 3');
  [1290, 1305, 1320].forEach(yy => g.append('path').attr('d', `M225,${yy} L275,${yy} q14,-10 8,-18`).attr('fill', 'none').attr('stroke', '#A3AE5C').attr('stroke-width', 2.5));
  // CSAP cloud
  g.append('path').attr('d', 'M352,1365 C318,1362 320,1262 372,1252 C382,1170 482,1160 492,1240 C545,1240 552,1362 510,1365Z')
    .attr('fill', 'url(#cloudGrad)').attr('stroke', '#6A6A6A').attr('stroke-width', 5);
  d3.range(342, 410, 14).forEach(xx => g.append('line').attr('x1', xx).attr('x2', xx).attr('y1', 1375).attr('y2', 1490).attr('stroke', '#2456C8').attr('stroke-width', 3));
  g.append('path').attr('d', 'M385,1492 L415,1402 L438,1462 L450,1432 L472,1492Z').attr('fill', '#5E1452').attr('stroke', '#2F8A2A').attr('stroke-width', 3);
  g.append('path').attr('d', 'M330,1375 L330,1488 Q332,1497 345,1497 L545,1497').attr('fill', 'none').attr('stroke', '#333').attr('stroke-width', 4);
  g.append('path').attr('d', 'M468,1375 A18,30 0 0 0 504,1375').attr('fill', 'none').attr('stroke', '#F4C430').attr('stroke-width', 4);
  g.append('path').attr('d', 'M436,1380 L436,1412 M425,1396 L447,1396 M428,1385 L444,1407 M444,1385 L428,1407').attr('stroke', '#888').attr('stroke-width', 3);
  g.append('path').attr('d', 'M502,1490 L502,1442 M492,1456 L492,1472 L512,1472 L512,1456').attr('fill', 'none').attr('stroke', '#3FA02E').attr('stroke-width', 6);
  // block A
  g.append('path').attr('d', 'M603,1255 L674,1255 L674,1277 L662,1277 L698,1430 L698,1452 L580,1452 L580,1430 L617,1277 L603,1277Z').attr('fill', '#0C234B');
  g.append('path').attr('d', 'M627,1270 L650,1270 L684,1440 L594,1440Z').attr('fill', '#fff');
  g.append('path').attr('d', 'M633,1285 L645,1285 L672,1430 L605,1430 Z M630,1375 L648,1375 L640,1330 Z').attr('fill', '#AB0520').attr('fill-rule', 'evenodd');
  g.append('line').attr('x1', 732).attr('x2', 732).attr('y1', 1245).attr('y2', 1462).attr('stroke', '#0C234B').attr('stroke-width', 2);

  txt(svg, 170, 2502, 'CLIMAS', { size: 44, weight: 'bold', fill: '#7A4A14', family: '"Liberation Serif"', len: 155 });
  txt(svg, 170, 2524, 'Climate Assessment for the Southwest', { size: 11, fill: '#8F9A3C', len: 155 });
  txt(svg, 325, 2535, 'A NOAA RISA TEAM', { size: 8, fill: '#C0742A', anchor: 'end' });
  txt(svg, 373, 2439, 'CSAP', { size: 45, weight: 'bold', fill: '#14295E', len: 109 });
  txt(svg, 346, 2531, 'http://cals.arizona.edu/climate', { size: 14, weight: 'bold', fill: '#14295E', len: 178 });
  txt(svg, 681, 2440, 'THE UNIVERSITY OF ARIZONA', { size: 18, fill: '#0C234B', len: 261 });
  txt(svg, 681, 2476, 'Cooperative Extension', { size: 44, fill: '#0C234B', family: 'Lato', len: 429 });
}
</script>
</body>
</html>
